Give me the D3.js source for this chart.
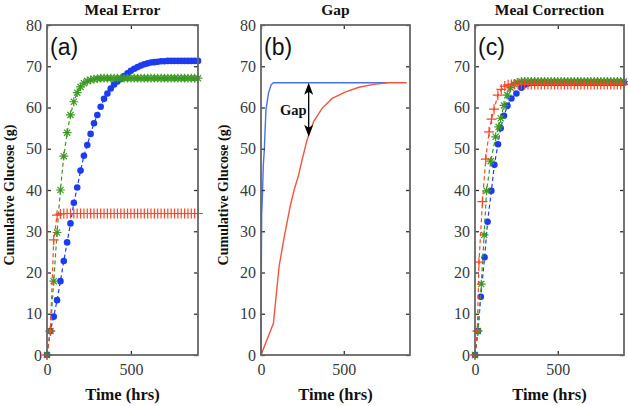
<!DOCTYPE html>
<html><head><meta charset="utf-8">
<script src="https://cdn.jsdelivr.net/npm/d3@7"></script>
<style>body{margin:0;background:#fff} svg{display:block}</style>
</head><body><svg id="c" width="628" height="406"></svg>
<script>
// ---------------- data ----------------
const timeA = [0,20,40,60,80,100,120,140,160,180,200,220,240,260,280,300,320,340,360,380,400,420,440,460,480,500,520,540,560,580,600,620,640,660,680,700,720,740,760,780,800,820,840,860,880,900];
const blueA = [0,5.8,9.3,13.3,17.9,22.8,27.3,31.9,36.9,40.6,44.7,48.3,50.9,53.6,56.2,58.2,60.2,62.1,63.4,64.6,65.6,66.3,66.9,67.6,68.3,68.9,69.4,69.8,70.2,70.5,70.7,70.9,71.0,71.1,71.2,71.2,71.3,71.3,71.3,71.3,71.3,71.3,71.3,71.3,71.3,71.3];
const greenA = [0,5.8,17.9,29.7,40.0,48.2,53.9,58.2,61.4,63.6,65.0,65.9,66.4,66.7,66.9,67.0,
  67.1,67.1,67.1,67.1,67.1,67.1,67.1,67.1,67.1,67.1,
  67.1,67.1,67.1,67.1,67.1,67.1,67.1,67.1,67.1,67.1,
  67.1,67.1,67.1,67.1,67.1,67.1,67.1,67.1,67.1,67.1];
const redA = [0,5.8,27.9,33.9,34.2,
  34.3,34.3,34.3,34.3,34.3,34.3,34.3,34.3,34.3,34.3,
  34.3,34.3,34.3,34.3,34.3,34.3,34.3,34.3,34.3,34.3,
  34.3,34.3,34.3,34.3,34.3,34.3,34.3,34.3,34.3,34.3,
  34.3,34.3,34.3,34.3,34.3,34.3,34.3,34.3,34.3,34.3,34.3];

const blueB = [[0,0],[2,20],[4,34],[8,38],[14,46],[20,49.7],[24,53.8],[30,59.4],[45,63.5],[61,65.5],[75,66],[764,66]];
const redB = [[0,0],[75,7.7],[109,21.4],[140,28.6],[176,36],[200,40],[227,43.6],[250,47.6],[278,52.1],[318,56.6],[369,59.8],[430,62.2],[511,63.8],[592,64.9],[680,65.6],[764,66],[880,66]];
const gapArrow = {t:288, top:66, bottom:52.9, label:"Gap"};

const redC = [[0,0],[14,5.8],[24,22.5],[45,37.2],[65,47.5],[85,54.1],[100,57.2],[115,59.6],[138,63.0],[159,64.4],[180,65.2],[200,65.5],
  [220,65.6],[240,65.6],[260,65.6],[280,65.6],[300,65.6],[320,65.6],[340,65.6],[360,65.6],[380,65.6],[400,65.6],[420,65.6],[440,65.6],
  [460,65.6],[480,65.6],[500,65.6],[520,65.6],[540,65.6],[560,65.6],[580,65.6],[600,65.6],[620,65.6],[640,65.6],[660,65.6],[680,65.6],
  [700,65.6],[720,65.6],[740,65.6],[760,65.6],[780,65.6],[800,65.6],[820,65.6],[840,65.6],[860,65.6],[880,65.6],[900,65.6]];
const greenC = [[0,0],[18,5.8],[38,17.2],[55,29.1],[70,39.8],[95,47.0],[125,52.9],[143,55.3],[155,57.4],[175,60.5],[195,63.0],[215,64.8],[235,65.7],[255,66.1],
  [280,66.3],[300,66.3],[320,66.3],[340,66.3],[360,66.3],[380,66.3],[400,66.3],[420,66.3],[440,66.3],[460,66.3],[480,66.3],[500,66.3],
  [520,66.3],[540,66.3],[560,66.3],[580,66.3],[600,66.3],[620,66.3],[640,66.3],[660,66.3],[680,66.3],[700,66.3],[720,66.3],[740,66.3],
  [760,66.3],[780,66.3],[800,66.3],[820,66.3],[840,66.3],[860,66.3],[880,66.3],[900,66.3]];
const blueC = [[0,0],[18,5.8],[35,14.1],[58,23.7],[76,32.3],[99,39.8],[117,46.1],[139,51.1],[155,55.0],[175,58.0],[196,60.4],[220,62.2],[250,63.4],[280,64.8],[300,65.5],[320,65.8],
  [340,66.0],[360,66.0],[380,66.0],[400,66.0],[420,66.0],[440,66.0],[460,66.0],[480,66.0],[500,66.0],[520,66.0],[540,66.0],[560,66.0],
  [580,66.0],[600,66.0],[620,66.0],[640,66.0],[660,66.0],[680,66.0],[700,66.0],[720,66.0],[740,66.0],[760,66.0],[780,66.0],[800,66.0],
  [820,66.0],[840,66.0],[860,66.0],[880,66.0],[900,66.0]];

const yTicks = [0,10,20,30,40,50,60,70,80];
const xTicks = [0,500];
const xDomain = [0,900];
const yDomain = [0,80];
const titles = ["Meal Error","Gap","Meal Correction"];
const letters = ["(a)","(b)","(c)"];
const xLabel = "Time (hrs)";
const yLabel = "Cumulative Glucose (g)";

// ---------------- drawing ----------------
const SERIF = "'Liberation Serif','Times New Roman',serif";
const SANS = "'Liberation Sans',Arial,sans-serif";
const COL = {blue:"#1c3cf2", green:"#3a9a22", red:"#ff4422", blueLine:"#4670ee", redLine:"#f2553f", axis:"#666"};
const svg = d3.select("#c");
const TOP = 25, BOTTOM = 355;
const panels = [{left:47,right:198,ylab:true},{left:261,right:410,ylab:true},{left:475,right:624,ylab:false}];

const zipA = vals => timeA.map((t,i)=>[t,vals[i]]);
const panelData = [
  [{pts:zipA(blueA),col:COL.blue,mark:"dot",dash:true},
   {pts:zipA(greenA),col:COL.green,mark:"star",dash:true},
   {pts:zipA(redA),col:COL.red,mark:"plus",dash:true}],
  [{pts:blueB,col:COL.blueLine,mark:null,dash:false},
   {pts:redB,col:COL.redLine,mark:null,dash:false}],
  [{pts:blueC,col:COL.blue,mark:"dot",dash:true},
   {pts:greenC,col:COL.green,mark:"star",dash:true},
   {pts:redC,col:COL.red,mark:"plus",dash:true}]
];

panels.forEach((p,i)=>{
  const x = d3.scaleLinear().domain(xDomain).range([p.left,p.right]);
  const y = d3.scaleLinear().domain(yDomain).range([BOTTOM,TOP]);
  const g = svg.append("g");

  // series
  const line = d3.line().x(d=>x(d[0])).y(d=>y(d[1]));
  panelData[i].forEach(s=>{
    g.append("path").attr("d",line(s.pts)).attr("fill","none")
      .attr("stroke",s.col).attr("stroke-width",s.dash?1.2:1.4)
      .attr("stroke-dasharray",s.dash?"4,3":null);
    if(s.mark==="dot"){
      g.selectAll(null).data(s.pts).enter().append("circle")
        .attr("cx",d=>x(d[0])).attr("cy",d=>y(d[1])).attr("r",3.3).attr("fill",s.col);
    } else if(s.mark==="star"){
      const h=4.4, k=3.1;
      g.selectAll(null).data(s.pts).enter().append("path")
        .attr("d",d=>{const cx=x(d[0]),cy=y(d[1]);
          return `M${cx-h},${cy}L${cx+h},${cy}M${cx},${cy-h}L${cx},${cy+h}M${cx-k},${cy-k}L${cx+k},${cy+k}M${cx-k},${cy+k}L${cx+k},${cy-k}`;})
        .attr("stroke",s.col).attr("stroke-width",1.2).attr("fill","none");
    } else if(s.mark==="plus"){
      const h=5;
      g.selectAll(null).data(s.pts).enter().append("path")
        .attr("d",d=>{const cx=x(d[0]),cy=y(d[1]);
          return `M${cx-h},${cy}L${cx+h},${cy}M${cx},${cy-h}L${cx},${cy+h}`;})
        .attr("stroke",s.col).attr("stroke-width",1.2).attr("fill","none");
    }
  });

  // axes (box with inward ticks)
  const styleAxis = sel=>{
    sel.selectAll(".tick line").attr("stroke","#333").attr("stroke-width",1.3);
    sel.selectAll(".tick text").attr("fill","#3a3a3a").attr("font-family",SERIF).attr("font-size",16);
  };
  g.append("g").attr("transform",`translate(${p.left},0)`)
    .call(d3.axisLeft(y).tickValues(yTicks).tickSizeInner(-4).tickSizeOuter(0).tickPadding(5)).call(styleAxis);
  g.append("g").attr("transform",`translate(${p.right},0)`)
    .call(d3.axisRight(y).tickValues(yTicks).tickSizeInner(-4).tickSizeOuter(0).tickFormat("")).call(styleAxis);
  g.append("g").attr("transform",`translate(0,${BOTTOM})`)
    .call(d3.axisBottom(x).tickValues(xTicks).tickSizeInner(-4).tickSizeOuter(0).tickPadding(9)).call(styleAxis);
  g.append("g").attr("transform",`translate(0,${TOP})`)
    .call(d3.axisTop(x).tickValues(xTicks).tickSizeInner(-4).tickSizeOuter(0).tickFormat("")).call(styleAxis);
  g.selectAll(".domain").remove();
  g.append("rect").attr("x",p.left).attr("y",TOP).attr("width",p.right-p.left).attr("height",BOTTOM-TOP)
    .attr("fill","none").attr("stroke",COL.axis).attr("stroke-width",1.8);

  // title
  g.append("text").attr("x",(p.left+p.right)/2).attr("y",15).attr("text-anchor","middle")
    .attr("font-family",SERIF).attr("font-weight","bold").attr("font-size",15.5).attr("fill","#111").text(titles[i]);
  // panel letter
  g.append("text").attr("x",p.left+3).attr("y",TOP+30)
    .attr("font-family",SANS).attr("font-size",23).attr("fill","#111").text(letters[i]);
  // x label
  g.append("text").attr("x",(p.left+p.right)/2).attr("y",400).attr("text-anchor","middle")
    .attr("font-family",SERIF).attr("font-weight","bold").attr("font-size",16.5).attr("fill","#111").text(xLabel);
  // y label
  if(p.ylab){
    g.append("text").attr("transform",`translate(${p.left-33},195) rotate(-90)`).attr("text-anchor","middle")
      .attr("font-family",SERIF).attr("font-weight","bold").attr("font-size",14).attr("fill","#111").text(yLabel);
  }

  // gap annotation
  if(i===1){
    const ax = x(gapArrow.t), y1 = y(gapArrow.top), y2 = y(gapArrow.bottom);
    const hl = 12, hw = 4.5;
    g.append("line").attr("x1",ax).attr("x2",ax).attr("y1",y1+4).attr("y2",y2-4).attr("stroke","#000").attr("stroke-width",1.3);
    g.append("path").attr("d",`M${ax},${y1}L${ax+hw},${y1+hl}L${ax},${y1+hl-3}L${ax-hw},${y1+hl}Z`).attr("fill","#000");
    g.append("path").attr("d",`M${ax},${y2}L${ax+hw},${y2-hl}L${ax},${y2-hl+3}L${ax-hw},${y2-hl}Z`).attr("fill","#000");
    g.append("text").attr("x",ax-2).attr("y",(y1+y2)/2+5).attr("text-anchor","end")
      .attr("font-family",SERIF).attr("font-weight","bold").attr("font-size",14.5).attr("fill","#111").text(gapArrow.label);
  }
});
</script></body></html>
